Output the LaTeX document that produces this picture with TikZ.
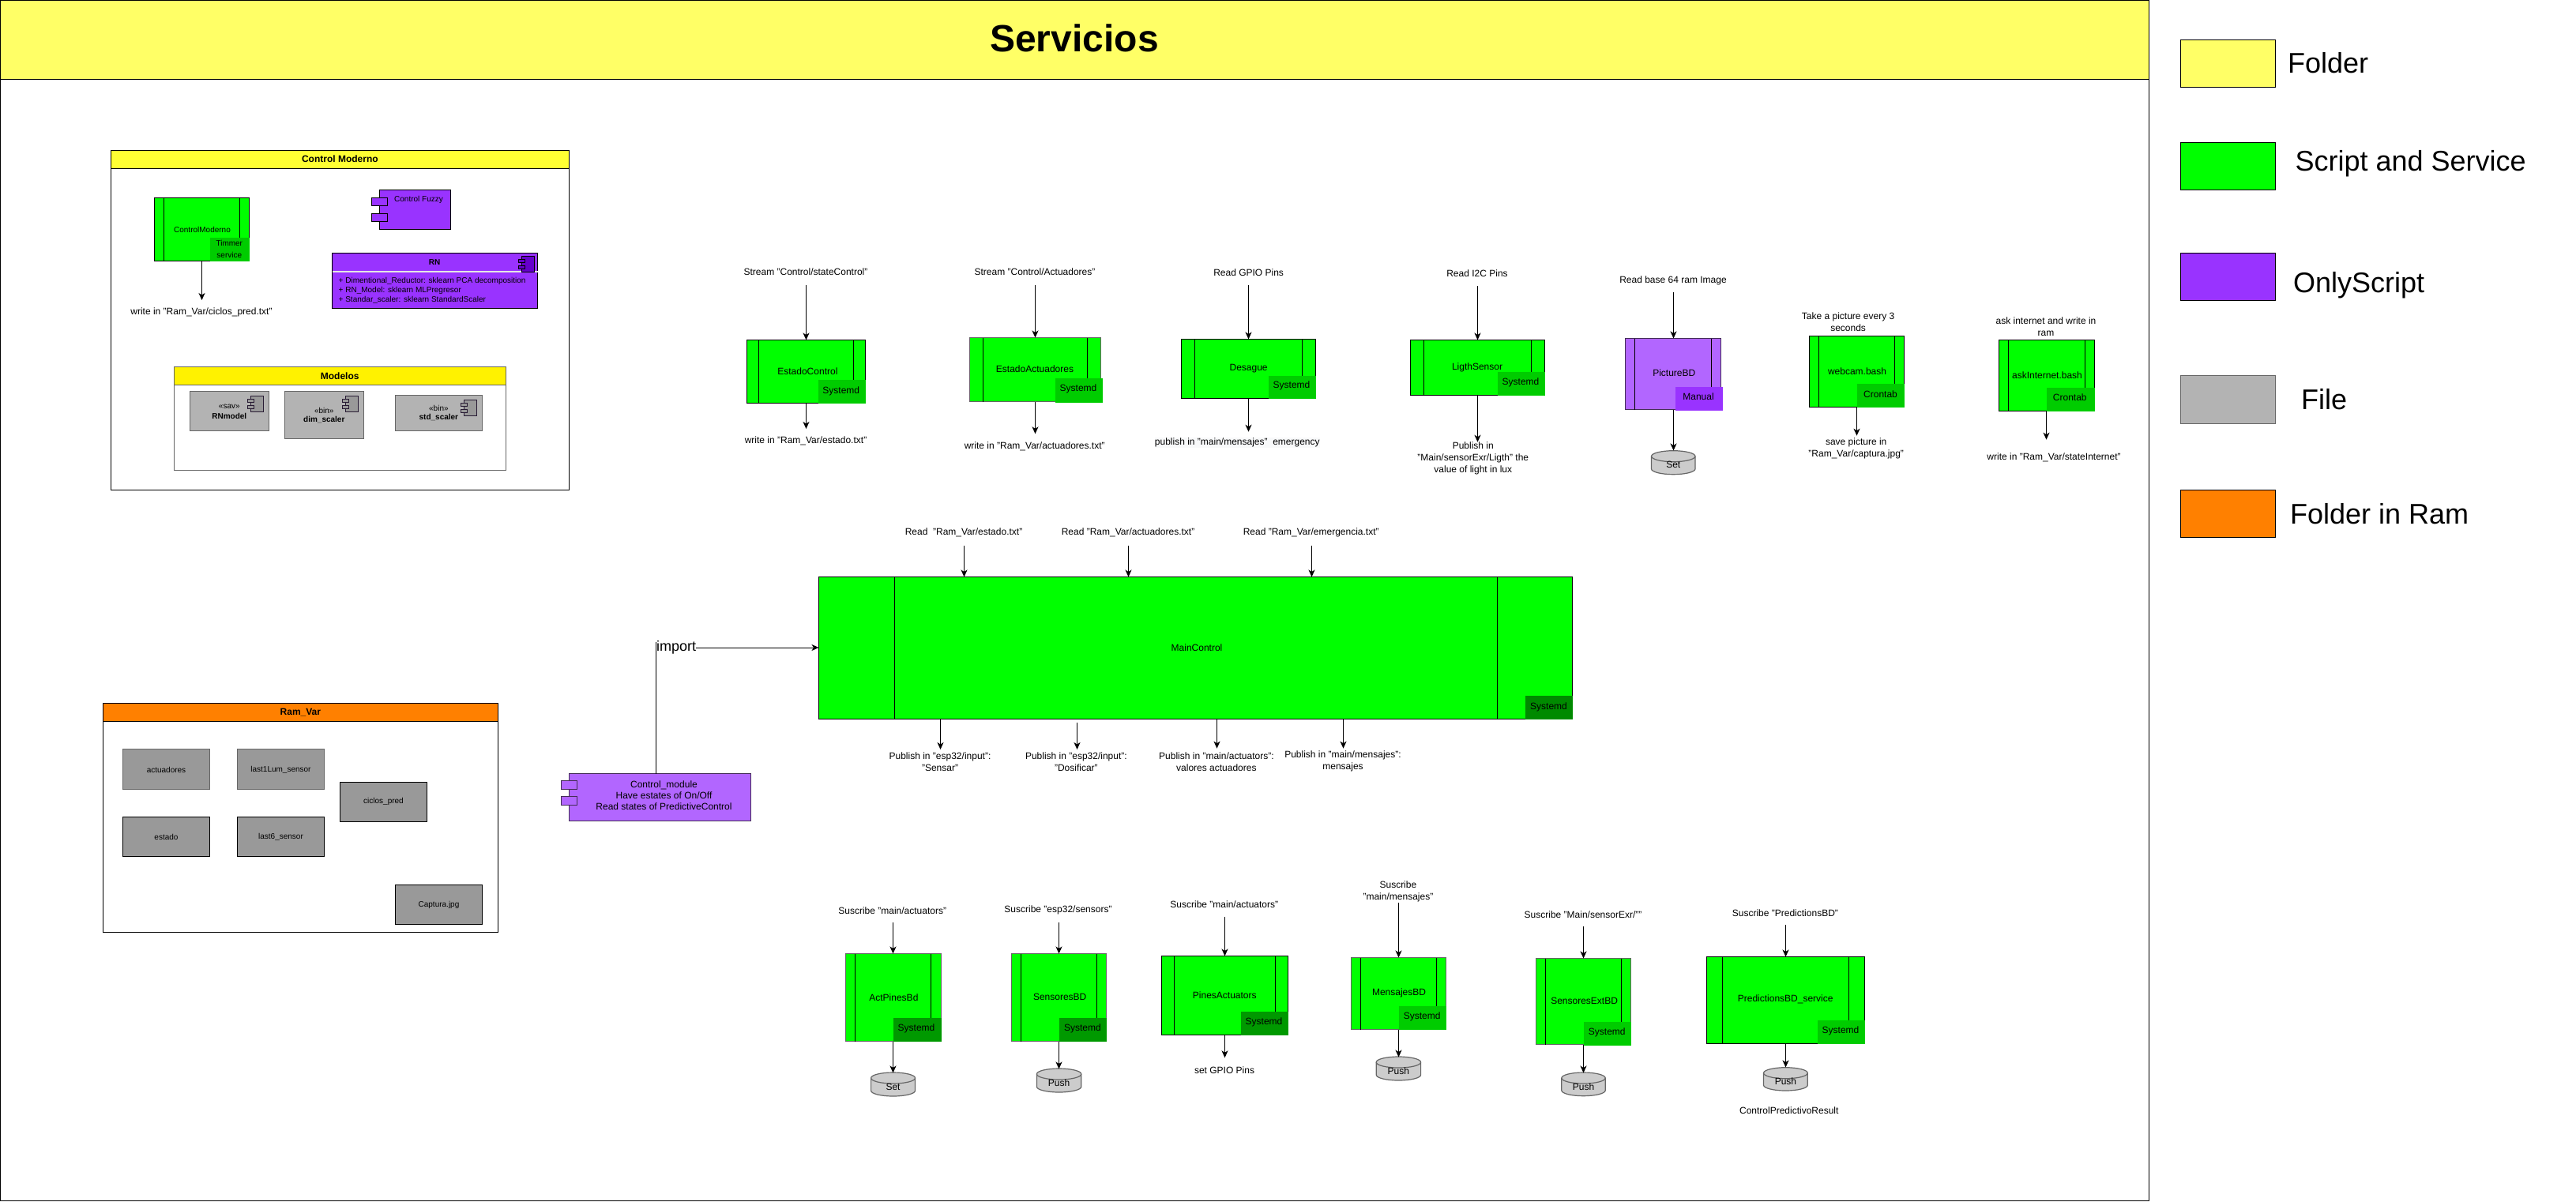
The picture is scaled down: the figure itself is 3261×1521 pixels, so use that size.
\documentclass[tikz,border=0pt]{standalone}
\usepackage{fontspec}
\setmainfont{Liberation Sans}
\usetikzlibrary{arrows.meta}
\definecolor{titley}{HTML}{FFFF66}
\definecolor{cmy}{HTML}{FFFF33}
\definecolor{puregreen}{HTML}{00FF00}
\definecolor{tagmid}{HTML}{00CC00}
\definecolor{tagdark}{HTML}{009900}
\definecolor{tagdeep}{HTML}{008A00}
\definecolor{purp}{HTML}{9933FF}
\definecolor{purpl}{HTML}{B266FF}
\definecolor{purpd}{HTML}{6600CC}
\definecolor{purpt}{HTML}{9933FF}
\definecolor{grayfile}{HTML}{B3B3B3}
\definecolor{grayram}{HTML}{999999}
\definecolor{orangeram}{HTML}{FF8000}
\definecolor{softline}{HTML}{666666}
\definecolor{softpurp}{HTML}{432D57}
\definecolor{paper}{HTML}{F8F9FA}
\tikzset{
  x=1pt,y=1pt,
  every node/.style={inner sep=0pt,outer sep=0pt,font=\fontsize{12}{15}\selectfont},
  frameb/.style={draw=black,line width=1pt},
  softb/.style={draw=softline,line width=1.6pt},
  svcb/.style={frameb,fill=puregreen},
  softsvc/.style={softb,fill=puregreen},
  tagb/.style={fill=#1},
  arr/.style={draw=black,line width=1pt,-{Stealth[length=9pt,width=8pt,inset=2.5pt]}},
  lab/.style={align=center,text=black},
  small/.style={align=center,text=black,font=\fontsize{10}{15}\selectfont},
  cylst/.style={draw=softline,line width=1.2pt,fill=black!20},
  lgt/.style={anchor=west,font=\fontsize{36}{40}\selectfont},
  boldlab/.style={align=center,text=black,font=\fontsize{12}{15}\selectfont\bfseries},
  smallb/.style={align=center,text=black,font=\fontsize{10}{15}\selectfont\bfseries},
  listlab/.style={anchor=west,text=black,font=\fontsize{10}{12}\selectfont},
}
% snap a value to a pixel centre
\newcommand{\sn}[2]{\pgfmathsetmacro{#1}{floor(#2)+0.5}}
% box: options, name, x1,y1,x2,y2
\newcommand{\bx}[6][]{\sn{\bxa}{#3}\sn{\bya}{#4}\sn{\bxb}{#5}\sn{\byb}{#6}%
  \node[anchor=north west,minimum width={(\bxb-\bxa)*1pt},minimum height={(\byb-\bya)*1pt},#1] (#2) at (\bxa,-\bya) {};}
% service: options, name, x1,y1,x2,y2, inner left, inner right
\newcommand{\svc}[8][svcb]{\bx[#1]{#2}{#3}{#4}{#5}{#6}
  \sn{\sla}{#7}\sn{\slb}{#8}%
  \draw[line width=1pt,black] (\sla,-\bya) -- (\sla,-\byb) (\slb,-\bya) -- (\slb,-\byb);}
% tag: colour, name, x1,y1,x2,y2
\newcommand{\tg}[6]{\bx[tagb=#1]{#2}{#3}{#4}{#5}{#6}}
% label: options, name, x, y, text
\newcommand{\lb}[5][lab]{\node[#1] (#2) at (#3,-#4) {#5};}
% arrow into top of a node: coordinate, x, y, node
\newcommand{\arin}[4]{\sn{\ax}{#2}\coordinate (#1) at (\ax,-#3); \draw[arr] (#1) -- (#1 |- #4.north);}
% arrow out of bottom of a node: coordinate, x, y, node
\newcommand{\arout}[4]{\sn{\ax}{#2}\coordinate (#1) at (\ax,-#3); \draw[arr] (#1 |- #4.south) -- (#1);}
% cylinder: name, x1,y1,x2,y2, text, text y
\newcommand{\cyl}[7]{%
  \pgfmathsetmacro{\crx}{(#4-#2)/2}%
  \pgfmathsetmacro{\ccx}{(#4+#2)/2}%
  \bx{#1}{#2}{#3}{#4}{#5}
  \draw[cylst] (#2,{-(#3+7)}) -- (#2,{-(#5-7)}) arc[start angle=180,end angle=360,x radius=\crx,y radius=7] -- (#4,{-(#3+7)}) arc[start angle=0,end angle=180,x radius=\crx,y radius=7] -- cycle;
  \draw[draw=softline,line width=1.2pt] (#2,{-(#3+7)}) arc[start angle=180,end angle=360,x radius=\crx,y radius=7];
  \lb{#1txt}{\ccx}{#7}{#6}}
% component icon: x,y of body, stroke, fill
\newcommand{\compicon}[4]{%
  \draw[draw=#3,fill=#4,line width=1pt] (#1,-#2) rectangle ({#1+16},{-(#2+20)});
  \draw[draw=#3,fill=#4,line width=1pt] ({#1-4},{-(#2+4)}) rectangle ({#1+4},{-(#2+8)});
  \draw[draw=#3,fill=#4,line width=1pt] ({#1-4},{-(#2+12)}) rectangle ({#1+4},{-(#2+16)});}
\begin{document}
\begin{tikzpicture}
\useasboundingbox (0,0) rectangle (3261,-1521);
\fill[white] (0,0) rectangle (3261,-1521);
% ---------- page frame
\bx[frameb]{page}{0.7}{0.7}{2720.7}{1520}
\bx[frameb,fill=titley]{band}{0.7}{0.7}{2720.7}{100.4}
\node[font=\fontsize{48}{52}\selectfont\bfseries] (title) at (1360,-48.5) {Servicios};
% ---------- legend
\bx[frameb,fill=titley]{lgfolder}{2760.5}{50.4}{2880.7}{110.7}
\bx[frameb,fill=puregreen]{lgscript}{2760.5}{180.4}{2880.7}{240.6}
\bx[frameb,fill=purp]{lgonly}{2760.5}{320.5}{2880.7}{380.4}
\bx[softb,fill=grayfile]{lgfile}{2760.5}{475.9}{2880.7}{536}
\bx[frameb,fill=orangeram]{lgram}{2760.5}{620.5}{2880.7}{680.4}
\lb[lgt]{tfolder}{2896}{80}{Folder}
\lb[lgt]{tscript}{2905.5}{207}{Script and Service}
\lb[lgt]{tonly}{2903}{361.5}{OnlyScript}
\lb[lgt]{tfile}{2913}{506}{File}
\lb[lgt]{tram}{2899}{650.5}{Folder in Ram}
% ---------- Control Moderno
\bx[frameb,fill=white]{cmbody}{140.4}{190}{720.4}{620}
\bx[frameb,fill=cmy]{cmhead}{140.4}{190}{720.4}{213.3}
\lb[boldlab]{cmtitle}{430.4}{201.7}{Control Moderno}
\svc{cm}{195.5}{250.3}{315.5}{330.3}{207.3}{303.5}
\tg{tagmid}{cmtag}{265.5}{300.3}{315.5}{330.3}
\lb[small]{cmname}{256}{291}{ControlModerno}
\lb[small]{cmtagtxt}{290.3}{315}{Timmer\\service}
\arout{cmout}{255.5}{380}{cm}
\lb{cmwrite}{255}{395}{write in "Ram\_Var/ciclos\_pred.txt"}
% Control Fuzzy
\bx[frameb,fill=purp]{fuzzy}{480.3}{240.3}{570.3}{290.3}
\bx[frameb,fill=purp]{fuzzyp1}{470.3}{250.3}{490.3}{260.3}
\bx[frameb,fill=purp]{fuzzyp2}{470.3}{270.3}{490.3}{280.3}
\lb[small]{fuzzytxt}{530}{253}{Control Fuzzy}
% RN
\bx[frameb,fill=purp]{rn}{420.3}{320.3}{680.3}{390.3}
\draw[draw=white!90!black,line width=1.2pt] (rn.west |- 0,-344) -- (rn.east |- 0,-344);
\lb[smallb]{rntitle}{550}{331.7}{RN}
\compicon{660.5}{324.5}{black}{purpd}
\lb[listlab]{rn1}{428.7}{356}{+ Dimentional\_Reductor: sklearn PCA decomposition}
\lb[listlab]{rn2}{428.7}{368}{+ RN\_Model: sklearn MLPregresor}
\lb[listlab]{rn3}{428.7}{380}{+ Standar\_scaler: sklearn StandardScaler}
% Modelos
\bx[softb,fill=white]{modbody}{220}{464.7}{640.4}{595}
\bx[softb,fill=yellow]{modhead}{220}{464.7}{640.4}{487.7}
\lb[boldlab]{modtitle}{430.2}{476.2}{Modelos}
\bx[softb,fill=grayfile]{rnmodel}{240}{495}{340.7}{545}
\compicon{317.5}{501.5}{softpurp!60!black}{grayram}
\lb[small]{rnmt}{290.3}{515}{«sav»}
\lb[smallb]{rnmn}{290.3}{526.7}{RNmodel}
\bx[softb,fill=grayfile]{dimsc}{360}{495}{460.7}{555}
\compicon{437.5}{501.5}{softpurp!60!black}{grayram}
\lb[small]{dimt}{410.3}{520}{«bin»}
\lb[smallb]{dimn}{410.3}{531.7}{dim\_scaler}
\bx[softb,fill=grayfile]{stdsc}{500}{500}{610.5}{545}
\compicon{587.5}{506.5}{softpurp!60!black}{grayram}
\lb[small]{stdt}{555.4}{516.7}{«bin»}
\lb[smallb]{stdn}{555.4}{528.7}{std\_scaler}
% ---------- Ram_Var
\bx[frameb,fill=white]{rambody}{130.4}{890.3}{630.4}{1180.3}
\bx[frameb,fill=orangeram]{ramhead}{130.4}{890.3}{630.4}{913.3}
\lb[boldlab]{ramtitle}{380.4}{901.7}{Ram\_Var}
\bx[softb,fill=grayram]{factu}{155.7}{948.7}{265.3}{999.3}
\lb[small]{factut}{210.5}{975}{actuadores}
\bx[softb,fill=grayram]{flast1}{300.3}{948.7}{410.6}{999.3}
\lb[small]{flast1t}{355.5}{975}{last1Lum\_sensor}
\bx[frameb,fill=grayram]{fciclos}{430.7}{990.3}{540.3}{1040.3}
\lb[small]{fciclost}{485.5}{1015}{ciclos\_pred}
\bx[frameb,fill=grayram]{festado}{155.7}{1034.3}{265.3}{1084.3}
\lb[small]{festadot}{210.5}{1060}{estado}
\bx[frameb,fill=grayram]{flast6}{300.3}{1034.3}{410.6}{1084.3}
\lb[small]{flast6t}{355.5}{1060}{last6\_sensor}
\bx[frameb,fill=grayram]{fcaptura}{500.7}{1120.3}{610.3}{1170.3}
\lb[small]{fcapturat}{555.5}{1146}{Captura.jpg}
% ---------- Control_module and MainControl
\svc{main}{1036.2}{730.3}{1990.6}{910.3}{1132}{1895.5}
\tg{tagdeep}{maintag}{1930.3}{880.3}{1990.6}{910.3}
\lb{maintxt}{1515}{820}{MainControl}
\lb{maintagt}{1960.5}{895}{Systemd}
\bx[draw=softpurp,line width=1.4pt,fill=purpl]{ctrlm}{720.6}{979}{950.7}{1039}
\bx[draw=softpurp,line width=1.2pt,fill=purpl]{ctrlp1}{710.8}{988.7}{730.3}{999}
\bx[draw=softpurp,line width=1.2pt,fill=purpl]{ctrlp2}{710.8}{1008.7}{730.3}{1019.3}
\lb[lab,font=\fontsize{12}{14}\selectfont]{ctrlt}{840.5}{1006.7}{Control\_module\\Have estates of On/Off\\Read states of PredictiveControl}
\coordinate (imp) at (830.5,-820);
\draw[arr] (imp |- ctrlm.north) -- (imp) -- (main.west |- imp);
\node[fill=white,anchor=west,font=\fontsize{18}{20}\selectfont] (implab) at (831.2,-820) {import};
\draw[draw=black,line width=1pt] (imp) -- ++(0,7);
\lb{rd1}{1220}{674.7}{Read\ \ "Ram\_Var/estado.txt"}
\lb{rd2}{1428}{674.7}{Read "Ram\_Var/actuadores.txt"}
\lb{rd3}{1659.7}{674.7}{Read "Ram\_Var/emergencia.txt"}
\arin{rd1s}{1220.4}{690.7}{main}
\arin{rd2s}{1428.7}{690.7}{main}
\arin{rd3s}{1660}{690.7}{main}
\arout{pb1e}{1190.2}{949}{main}
\coordinate (pb2s) at (1363.5,-915); \coordinate (pb2e) at (1363.5,-949);
\draw[arr] (pb2s) -- (pb2e);
\arout{pb3e}{1540.5}{947.7}{main}
\arout{pb4e}{1700.6}{947.7}{main}
\lb{pb1}{1190}{965}{Publish in "esp32/input":\\"Sensar"}
\lb{pb2}{1362.4}{965}{Publish in "esp32/input":\\"Dosificar"}
\lb{pb3}{1539.9}{964.2}{Publish in "main/actuators":\\valores actuadores}
\lb{pb4}{1700}{964.2}{Publish in "main/mensajes":\\mensajes}
% ---------- top row
\svc{ec}{945}{430.3}{1095.4}{510.3}{960.7}{1080.6}
\tg{tagmid}{ectag}{1035.7}{480.3}{1095.4}{510.3}
\lb{ectxt}{1022.4}{470}{EstadoControl}
\lb{ectagt}{1064.8}{495}{Systemd}
\lb{ecin}{1020}{344.7}{Stream "Control/stateControl"}
\arin{ecs}{1020.4}{360.7}{ec}
\arout{ece}{1020.4}{543}{ec}
\lb{ecout}{1020}{558.7}{write in "Ram\_Var/estado.txt"}
\svc[softsvc]{ea}{1227.6}{427.7}{1393.4}{508.3}{1244.9}{1376}
\tg{tagmid}{eatag}{1335.7}{478.3}{1395.4}{509}
\lb{eatxt}{1310}{467.7}{EstadoActuadores}
\lb{eatagt}{1365}{492.7}{Systemd}
\lb{eain}{1310}{344.7}{Stream "Control/Actuadores"}
\arin{eas}{1310}{360.7}{ea}
\arout{eae}{1310}{549.3}{ea}
\lb{eaout}{1309.7}{565}{write in "Ram\_Var/actuadores.txt"}
\svc{de}{1495.4}{429.3}{1665.3}{504.3}{1512.8}{1648.5}
\tg{tagmid}{detag}{1605.6}{475}{1665.3}{504.3}
\lb{detxt}{1580.6}{466.7}{Desague}
\lb{detagt}{1635}{488.7}{Systemd}
\lb{dein}{1580.6}{345.7}{Read GPIO Pins}
\arin{des}{1580.6}{361.3}{de}
\arout{dee}{1580.6}{546.7}{de}
\node[fill=paper,inner ysep=1pt] (deout) at (1566.3,-560.7) {publish in "main/mensajes"\ \ emergency};
\svc{li}{1785}{430.3}{1955.9}{500.3}{1802.5}{1938.4}
\tg{tagmid}{litag}{1895.6}{470.3}{1955.9}{500.3}
\lb{litxt}{1870}{465}{LigthSensor}
\lb{litagt}{1925}{484.7}{Systemd}
\lb{liin}{1870}{346.7}{Read I2C Pins}
\arin{lis}{1870}{362.3}{li}
\arout{lie}{1870}{559.7}{li}
\lb{liout}{1864.8}{580.2}{Publish in\\"Main/sensorExr/Ligth" the\\value of light in lux}
\svc[draw=softpurp,line width=1.5pt,fill=purpl]{pi}{2057.7}{428.7}{2178.2}{518.7}{2069.7}{2166.2}
\tg{purpt}{pitag}{2120.6}{489}{2180.2}{519}
\lb{pitxt}{2119.3}{472.7}{PictureBD}
\lb{pitagt}{2150}{502.7}{Manual}
\lb{piin}{2118}{355}{Read base 64 ram Image}
\arin{pis}{2118}{370.3}{pi}
\cyl{pic}{2090.5}{570.7}{2146}{600.7}{Set}{588.7}
\coordinate (pie) at (2118.5,-570); \draw[arr] (pie |- pi.south) -- (pie |- pic.north);
\svc{we}{2290.8}{425.7}{2410.6}{515.7}{2302}{2398.6}
\tg{tagmid}{wetag}{2350.4}{485}{2410.6}{515}
\lb{wetxt}{2351}{470}{webcam.bash}
\lb{wetagt}{2380.5}{499}{Crontab}
\lb{wein}{2339.6}{407.5}{Take a picture every 3\\seconds}
\arout{wee}{2350.4}{551.7}{we}
\lb{weout}{2349.7}{567.5}{save picture in\\"Ram\_Var/captura.jpg"}
\svc{as}{2530.5}{430.3}{2651}{520.3}{2542.6}{2639}
\tg{tagmid}{astag}{2590.8}{490}{2651}{520}
\lb{astxt}{2591.5}{475}{askInternet.bash}
\lb{astagt}{2620.3}{503.7}{Crontab}
\lb{asin}{2590}{413.5}{ask internet and write in\\ram}
\arout{ase}{2590.8}{556.7}{as}
\lb{asout}{2600}{579.7}{write in "Ram\_Var/stateInternet"}
% ---------- bottom row
\svc[softsvc]{ap}{1070.7}{1207.7}{1191}{1318}{1082.6}{1178.5}
\tg{tagdark}{aptag}{1130.3}{1288}{1191}{1318}
\lb{aptxt}{1131.4}{1262.7}{ActPinesBd}
\lb{aptagt}{1160}{1302.7}{Systemd}
\lb{apin}{1129.7}{1152.7}{Suscribe "main/actuators"}
\arin{aps}{1130.3}{1168.3}{ap}
\cyl{apc}{1102.6}{1358}{1158.5}{1388}{Set}{1376}
\coordinate (ape) at (1130.5,-1358); \draw[arr] (ape |- ap.south) -- (ape |- apc.north);
\svc[softsvc]{se}{1280.4}{1207.7}{1400.7}{1318}{1292.3}{1388.3}
\tg{tagdark}{setag}{1340.6}{1288}{1400.7}{1318}
\lb{setxt}{1341.7}{1262.7}{SensoresBD}
\lb{setagt}{1370.4}{1302.7}{Systemd}
\lb{sein}{1339.5}{1152.7}{Suscribe "esp32/sensors"}
\arin{ses}{1340.6}{1168.3}{se}
\cyl{sec}{1312.4}{1353}{1368.8}{1383}{Push}{1370.7}
\coordinate (see) at (1340.5,-1353); \draw[arr] (see |- se.south) -- (see |- sec.north);
\svc{pa}{1470.7}{1210.3}{1630.5}{1310.3}{1486.4}{1614.3}
\tg{tagdark}{patag}{1570.4}{1280.3}{1630.5}{1310.3}
\lb{patxt}{1550.3}{1259.7}{PinesActuators}
\lb{patagt}{1600}{1294.7}{Systemd}
\lb{pain}{1549.8}{1144.7}{Suscribe "main/actuators"}
\arin{pas}{1550.3}{1160.7}{pa}
\arout{pae}{1550.3}{1339.3}{pa}
\lb{paout}{1550}{1355}{set GPIO Pins}
\svc[softsvc]{me}{1710.2}{1212.7}{1830.5}{1303}{1722}{1818.6}
\tg{tagmid}{metag}{1770.4}{1273}{1830.5}{1303}
\lb{metxt}{1771}{1257.7}{MensajesBD}
\lb{metagt}{1800.2}{1287.7}{Systemd}
\lb{mein}{1769.9}{1129}{Suscribe\\"main/mensajes"}
\arin{mes}{1770.4}{1143.3}{me}
\cyl{mec}{1742.2}{1338}{1798.6}{1368}{Push}{1355.7}
\coordinate (mee) at (1770.5,-1338); \draw[arr] (mee |- me.south) -- (mee |- mec.north);
\svc[softsvc]{sx}{1944.2}{1213}{2064.5}{1322.7}{1956.5}{2052.6}
\tg{tagmid}{sxtag}{2004.5}{1293}{2064.5}{1323}
\lb{sxtxt}{2005.6}{1267.7}{SensoresExtBD}
\lb{sxtagt}{2034.3}{1307.7}{Systemd}
\lb{sxin}{2004}{1157.7}{Suscribe "Main/sensorExr/""}
\arin{sxs}{2004.2}{1173.3}{sx}
\cyl{sxc}{1976.8}{1358}{2032.2}{1387.7}{Push}{1375.7}
\coordinate (sxe) at (2004.5,-1358); \draw[arr] (sxe |- sx.south) -- (sxe |- sxc.north);
\svc{pr}{2160.3}{1211.3}{2360.5}{1321.3}{2180.6}{2340.5}
\tg{tagmid}{prtag}{2300.5}{1291.7}{2360.5}{1321.3}
\lb{prtxt}{2260.2}{1265.7}{PredictionsBD\_service}
\lb{prtagt}{2330}{1305.7}{Systemd}
\lb{prin}{2259.9}{1155.7}{Suscribe "PredictionsBD"}
\arin{prs}{2260.6}{1171.3}{pr}
\cyl{prc}{2232.5}{1351.7}{2288.3}{1381}{Push}{1368.7}
\coordinate (pre) at (2260.5,-1351); \draw[arr] (pre |- pr.south) -- (pre |- prc.north);
\lb{prout}{2264.8}{1405.7}{ControlPredictivoResult}
\end{tikzpicture}
\end{document}
